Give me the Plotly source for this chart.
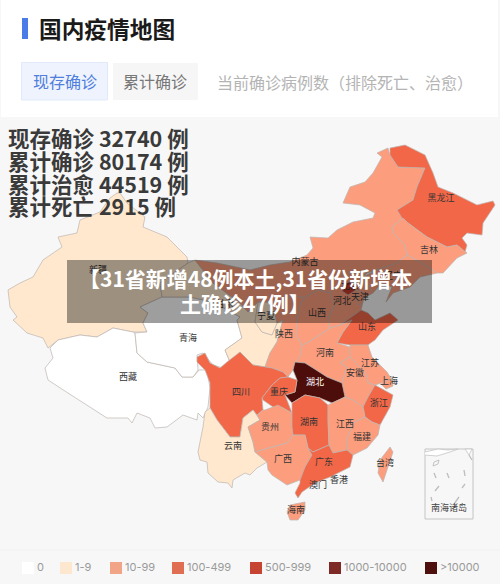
import plotly.graph_objects as go

CJK = "Noto Sans CJK SC"

# legend
legend_labels = ["0", "1-9", "10-99", "100-499", "500-999", "1000-10000", ">10000"]
legend_colors = ["#ffffff", "#fde8cf", "#f2a586", "#e06e52", "#c64431", "#7d2a27", "#4e100d"]
legend_x = [28, 66, 116, 178, 256, 335, 431]

# colour per level on the map, same order as the legend
level_colors = ["#ffffff", "#ffe8cd", "#fc9e7d", "#f16747", "#c83b2a", "#7d2a27", "#4d0e0b"]

province_names = ["新疆", "西藏", "青海", "甘肃", "宁夏", "内蒙古", "黑龙江", "吉林", "辽宁", "河北",
                  "北京", "天津", "山西", "陕西", "山东", "河南", "江苏", "安徽", "上海", "浙江",
                  "湖北", "四川", "重庆", "云南", "贵州", "湖南", "江西", "福建", "广西", "广东",
                  "海南", "台湾"]
province_levels = [1, 0, 0, 1, 1, 2, 3, 2, 2, 2,
                   4, 2, 2, 2, 3, 2, 2, 2, 2, 3,
                   6, 3, 3, 1, 2, 3, 2, 2, 2, 3,
                   2, 2]

# outlines, in page pixels
province_outlines = [
    [(117,193),(110,198),(100,212),(80,220),(77,233),(58,237),(62,247),(43,260),(33,277),(20,283),(8,290),(10,307),(17,317),(13,320),(27,333),(43,338),(48,348),(58,340),(80,335),(97,337),(113,328),(133,332),(147,332),(143,323),(148,313),(140,307),(162,297),(160,283),(188,263),(187,257),(167,237),(143,227),(145,217),(127,203),(120,193)],
    [(50,348),(53,358),(45,368),(48,380),(68,393),(90,407),(107,418),(128,418),(132,423),(137,413),(150,418),(155,428),(167,427),(183,415),(197,420),(198,413),(203,418),(208,407),(210,388),(207,370),(199,370),(193,377),(182,377),(175,368),(147,362),(137,353),(135,333),(133,332),(113,328),(97,337),(80,335),(58,340)],
    [(140,307),(162,297),(190,297),(213,302),(240,317),(237,320),(242,338),(225,350),(230,362),(223,368),(213,365),(203,353),(197,355),(198,370),(193,377),(182,377),(175,368),(147,362),(137,353),(135,333),(147,332),(143,323),(148,313)],
    [(188,263),(195,260),(213,283),(240,303),(248,312),(258,302),(255,322),(262,332),(272,335),(277,323),(283,320),(280,330),(277,342),(270,353),(265,367),(253,365),(240,352),(230,362),(225,350),(242,338),(237,320),(240,317),(213,302),(190,297),(162,297),(160,283)],
    [(258,302),(272,302),(277,323),(272,335),(262,332),(255,322)],
    [(377,153),(388,148),(390,155),(398,167),(425,168),(417,187),(413,200),(397,210),(403,218),(392,227),(393,233),(405,245),(407,255),(397,263),(377,270),(367,273),(350,273),(340,283),(330,293),(318,290),(304,298),(293,295),(285,300),(272,302),(258,302),(248,312),(240,303),(213,283),(195,260),(217,263),(250,270),(270,265),(290,262),(307,255),(313,248),(310,237),(328,238),(337,230),(353,222),(373,218),(375,213),(360,205),(343,203),(350,187),(365,182),(373,173),(382,157)],
    [(390,148),(405,145),(425,155),(433,173),(438,187),(453,193),(477,205),(493,201),(495,205),(483,223),(482,235),(467,233),(462,238),(467,245),(465,252),(457,245),(447,247),(427,237),(408,223),(402,218),(397,210),(413,200),(417,187),(425,168),(398,167),(390,155)],
    [(392,227),(403,218),(408,223),(427,237),(447,247),(457,245),(467,253),(457,258),(443,273),(437,273),(420,262),(407,255),(405,245),(393,233)],
    [(407,255),(420,262),(437,273),(420,277),(410,287),(393,293),(386,302),(392,287),(382,283),(373,293),(363,277),(377,270),(397,263)],
    [(330,293),(340,283),(350,273),(367,273),(363,277),(373,293),(364,298),(361,310),(357,313),(340,325),(330,328),(328,320),(334,305)],
    [(343,284),(352,281),(356,290),(348,295),(342,291)],
    [(356,290),(362,292),(364,298),(361,306),(356,303),(358,297)],
    [(304,298),(318,290),(330,293),(334,305),(328,320),(330,328),(323,333),(307,343),(302,345),(296,335),(297,320),(300,305)],
    [(293,295),(304,298),(300,305),(297,320),(296,335),(302,345),(300,357),(295,362),(293,370),(288,377),(283,372),(272,368),(265,367),(270,353),(277,342),(280,330),(283,320),(277,323),(272,302),(285,300)],
    [(357,313),(361,310),(368,313),(375,320),(390,313),(398,320),(383,330),(375,340),(372,342),(368,345),(350,345),(337,343),(343,332),(352,320),(340,325)],
    [(330,328),(340,325),(352,320),(343,332),(337,343),(350,347),(350,357),(340,363),(347,367),(342,383),(327,377),(313,368),(305,363),(295,362),(300,357),(302,345),(307,343),(323,333)],
    [(350,345),(368,345),(372,357),(387,372),(392,380),(383,383),(375,385),(368,383),(367,375),(358,365),(350,357)],
    [(340,363),(350,357),(358,365),(367,375),(368,383),(375,385),(368,397),(363,407),(353,400),(345,397),(342,383),(347,367)],
    [(383,380),(392,380),(393,386),(386,389),(382,385)],
    [(375,385),(382,389),(393,395),(390,407),(380,425),(372,422),(365,417),(363,407),(368,397)],
    [(295,362),(305,363),(313,368),(327,377),(342,383),(345,397),(332,403),(320,398),(305,395),(292,403),(285,395),(295,392),(297,380),(293,370)],
    [(197,357),(205,353),(210,363),(220,368),(227,362),(240,352),(253,365),(265,367),(272,368),(283,372),(288,377),(280,378),(272,385),(262,398),(263,410),(257,415),(253,410),(243,418),(240,437),(230,437),(217,420),(210,408),(210,383),(205,370),(197,362)],
    [(288,377),(297,380),(295,392),(285,395),(292,413),(283,408),(273,407),(263,400),(262,398),(272,385),(280,378)],
    [(210,408),(205,412),(203,427),(198,452),(200,460),(207,462),(208,473),(218,482),(228,483),(232,488),(233,480),(245,473),(250,475),(257,468),(267,462),(255,452),(253,442),(248,427),(260,420),(253,410),(243,418),(240,437),(230,437),(217,420)],
    [(248,427),(260,420),(257,415),(263,410),(265,410),(278,405),(292,413),(292,427),(293,435),(287,443),(272,447),(255,452),(253,442)],
    [(292,403),(305,395),(320,398),(328,405),(328,420),(329,445),(313,452),(308,448),(305,435),(293,435),(292,427),(292,413)],
    [(328,405),(332,403),(345,397),(353,400),(363,407),(365,417),(353,423),(347,440),(347,450),(333,453),(329,445),(328,420)],
    [(365,417),(372,422),(380,425),(378,435),(367,448),(353,455),(347,450),(347,440),(353,423)],
    [(255,452),(272,447),(287,443),(293,435),(305,435),(308,448),(312,455),(305,467),(300,480),(287,485),(272,475),(268,470),(267,462)],
    [(313,452),(329,445),(333,453),(347,450),(353,455),(350,467),(330,477),(315,483),(302,492),(298,498),(295,493),(300,483),(300,480),(305,467),(312,455),(308,448)],
    [(290,505),(305,502),(305,510),(298,520),(290,520),(287,512)],
    [(390,447),(393,452),(388,467),(383,482),(378,473),(380,460)],
]

label_names = ["新疆", "青海", "西藏", "四川", "云南", "重庆", "贵州", "广西", "湖南", "湖北", "江西", "福建",
               "广东", "香港", "澳门", "海南", "台湾", "河南", "安徽", "江苏", "上海", "浙江", "山东", "山西",
               "河北", "天津", "北京", "陕西", "宁夏", "甘肃", "内蒙古", "辽宁", "吉林", "黑龙江"]
label_x = [98, 188, 128, 241, 233, 279, 270, 283, 309, 315, 345, 362,
           324, 339, 318, 296, 385, 325, 355, 370, 389, 379, 367, 317,
           342, 360, 350, 284, 266, 225, 305, 393, 429, 441]
label_y = [271, 339, 378, 393, 447, 393, 428, 460, 423, 383, 425, 438,
           463, 481, 486, 511, 464, 354, 374, 364, 382, 404, 328, 314,
           302, 298, 287, 335, 317, 305, 263, 277, 251, 199]

# nine-dash marks in the inset
dash_x = [[434, 436], [447, 449], [464, 465], [469, 472], [435, 439], [431, 432], [454, 459], [462, 465]]
dash_y = [[473, 478], [473, 478], [470, 476], [455, 460], [491, 486], [497, 501], [504, 497], [488, 484]]

stat_lines = ["现存确诊 32740 例", "累计确诊 80174 例", "累计治愈 44519 例", "累计死亡 2915 例"]
stat_y = [137, 160, 183, 205]

fig = go.Figure()

for name, level, outline in zip(province_names, province_levels, province_outlines):
    xs = [p[0] for p in outline]
    ys = [p[1] for p in outline]
    fig.add_trace(go.Scatter(x=xs + xs[:1], y=ys + ys[:1], name=name, mode="lines", fill="toself",
                             fillcolor=level_colors[level], line=dict(color="#bdb5b0", width=0.7)))

# south china sea inset
fig.add_trace(go.Scatter(x=[425, 438, 448, 458, 450, 437, 425], y=[452, 449, 450, 449, 452, 456, 455],
                         mode="lines", fill="toself", fillcolor="#ffffff", line=dict(color="#c4c4c4", width=0.8)))
fig.add_trace(go.Scatter(x=[465, 472, 469, 465], y=[449, 449, 455, 449],
                         mode="lines", fill="toself", fillcolor="#ffffff", line=dict(color="#c4c4c4", width=0.8)))
fig.add_trace(go.Scatter(x=[434, 439, 438, 433, 434], y=[462, 460, 464, 466, 462],
                         mode="lines", line=dict(color="#c4c4c4", width=1)))
for dx, dy in zip(dash_x, dash_y):
    fig.add_trace(go.Scatter(x=dx, y=dy, mode="lines", line=dict(color="#bdbdbd", width=1.3)))

label_colors = ["#ffffff" if n == "湖北" else "#333333" for n in label_names]
fig.add_trace(go.Scatter(x=label_x, y=label_y, text=label_names, mode="text",
                         textfont=dict(family=CJK, size=9, color=label_colors)))
fig.add_trace(go.Scatter(x=[449], y=[509], text=["南海诸岛"], mode="text",
                         textfont=dict(family=CJK, size=9, color="#444444")))

# legend row
fig.add_trace(go.Scatter(x=legend_x, y=[568] * len(legend_x), mode="markers",
                         marker=dict(symbol="square", size=12, color=legend_colors, line=dict(width=0))))
fig.add_trace(go.Scatter(x=[v + 9 for v in legend_x], y=[568] * len(legend_x), text=legend_labels,
                         mode="text", textposition="middle right",
                         textfont=dict(family="Inter", size=11, color="#9a9a9a")))

shapes = [
    dict(type="rect", x0=1, x1=498, y0=0, y1=117, fillcolor="#ffffff", line_width=0, layer="below"),
    dict(type="rect", x0=22, x1=28, y0=18, y1=39, fillcolor="#4a7be8", line_width=0, layer="below"),
    dict(type="rect", x0=21.5, x1=107.5, y0=62.5, y1=100, fillcolor="#eef3fe",
         line=dict(color="#e1e9fb", width=1), layer="below"),
    dict(type="rect", x0=113, x1=198, y0=63, y1=100, fillcolor="#f6f6f6", line_width=0, layer="below"),
    dict(type="line", x0=0, x1=500, y0=550, y1=550, line=dict(color="#f1f1f1", width=1), layer="below"),
    dict(type="rect", x0=425, x1=473, y0=449, y1=519, line=dict(color="#c4c4c4", width=1), layer="below"),
    dict(type="rect", x0=67, x1=432, y0=260, y1=323, fillcolor="rgba(0,0,0,0.38)", line_width=0, layer="above"),
]

def note(x, y, text, size, color, anchor="left", weight="normal"):
    return dict(x=x, y=y, text=text, showarrow=False, xanchor=anchor, yanchor="middle",
                font=dict(family=CJK, size=size, color=color, weight=weight))

annotations = [
    note(37, 28, "国内疫情地图", 22.7, "#1a1a1a", weight="bold"),
    note(31, 81, "现存确诊", 16, "#4f7edb"),
    note(121, 81, "累计确诊", 16, "#777777"),
    note(215, 82, "当前确诊病例数（排除死亡、治愈）", 16, "#b4b4b4"),
    note(245, 278, "【31省新增48例本土,31省份新增本", 21, "#ffffff", "center", "bold"),
    note(245, 303, "土确诊47例】", 21, "#ffffff", "center", "bold"),
]
for line, y in zip(stat_lines, stat_y):
    annotations.append(note(6, y, line, 21.5, "#3a3a3a", weight="bold"))

fig.update_layout(
    width=500, height=584,
    margin=dict(l=0, r=0, t=0, b=0),
    paper_bgcolor="#f7f7f7", plot_bgcolor="rgba(0,0,0,0)",
    showlegend=False, hovermode=False,
    xaxis=dict(range=[0, 500], visible=False, fixedrange=True),
    yaxis=dict(range=[584, 0], visible=False, fixedrange=True),
    shapes=shapes, annotations=annotations,
)

fig.write_html("out.html", config={"displayModeBar": False},
               post_script="document.body.style.margin='0';")
